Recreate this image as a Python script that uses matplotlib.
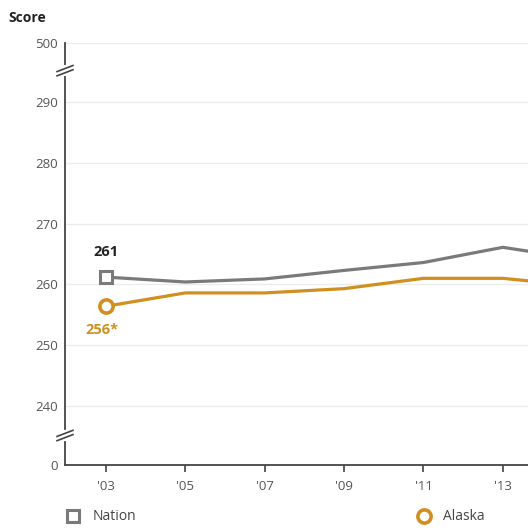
import matplotlib.pyplot as plt
from matplotlib.lines import Line2D

plt.rcParams['font.family'] = ['Open Sans', 'DejaVu Sans']

# data
years = [2003, 2005, 2007, 2009, 2011, 2013, 2015]
year_labels = ["'03", "'05", "'07", "'09", "'11", "'13"]
nation = [261.2, 260.4, 260.9, 262.3, 263.6, 266.1, 264.1]
alaska = [256.4, 258.6, 258.6, 259.3, 261.0, 261.0, 259.7]
y_ticks = [240, 250, 260, 270, 280, 290]

GRAY = '#7a7a7a'
ORANGE = '#d18f1f'
AXIS = '#444444'

# broken axis: 0 and 500 are drawn at fake positions below/above the range
Y0 = 230.3
Y500 = 299.7

fig = plt.figure(figsize=(5.28, 5.31), dpi=100)
ax = fig.add_axes([65 / 528, 66 / 531, 545 / 528, 422 / 531])

ax.set_xlim(2001.97, 2015.7)
ax.set_ylim(Y0, Y500)

for v in y_ticks + [Y500]:
    ax.axhline(v, color='#ececec', lw=1, zorder=0)

ax.plot(years, nation, color=GRAY, lw=2.3, zorder=3)
ax.plot(years, alaska, color=ORANGE, lw=2.3, zorder=3)
ax.plot(years[0], nation[0], marker='s', ms=8.5, mfc='white', mec=GRAY, mew=2.2, zorder=4)
ax.plot(years[0], alaska[0], marker='o', ms=9.5, mfc='white', mec=ORANGE, mew=2.6, zorder=4)

ax.annotate('261', (years[0], nation[0]), xytext=(0, 13), textcoords='offset points',
            ha='center', va='bottom', fontsize=10.5, fontweight='bold', color='#222222')
ax.annotate('256*', (years[0], alaska[0]), xytext=(-3, -12), textcoords='offset points',
            ha='center', va='top', fontsize=10.5, fontweight='bold', color=ORANGE)

ax.set_xticks(years[:len(year_labels)])
ax.set_xticklabels(year_labels)
ax.set_yticks([Y0] + y_ticks + [Y500])
ax.set_yticklabels(['0'] + [str(v) for v in y_ticks] + ['500'])
ax.tick_params(axis='x', length=5, width=1.2, color=AXIS, labelsize=9.5, labelcolor='#555555', pad=6)
ax.tick_params(axis='y', length=0, labelsize=9.5, labelcolor='#555555', pad=5)

for s in ['top', 'right']:
    ax.spines[s].set_visible(False)
ax.spines['left'].set_color(AXIS)
ax.spines['left'].set_linewidth(1.3)
ax.spines['bottom'].set_color(AXIS)
ax.spines['bottom'].set_linewidth(1.3)

# break marks on the y-axis
for yb in [(Y500 + 290) / 2 + 0.3, (Y0 + 240) / 2]:
    ax.plot([2001.97, 2001.97], [yb - 0.6, yb + 0.6], color='white', lw=3, zorder=5, clip_on=False)
    for off in [-0.35, 0.35]:
        ax.plot([2001.77, 2002.17], [yb + off - 0.5, yb + off + 0.5], color=AXIS, lw=1.2,
                zorder=6, clip_on=False)

fig.text(8 / 528, 1 - 18 / 531, 'Score', fontsize=10, fontweight='bold', color='#222222', va='center')

handles = [Line2D([], [], ls='none', marker='s', ms=8.5, mfc='white', mec=GRAY, mew=2.2),
           Line2D([], [], ls='none', marker='o', ms=9.5, mfc='white', mec=ORANGE, mew=2.6)]
fig.legend(handles, ['Nation', 'Alaska'], ncol=2, loc='center left',
           bbox_to_anchor=(54 / 528, 1 - 517 / 531), frameon=False, fontsize=10,
           labelcolor='#444444', handlelength=1, handletextpad=0.9, columnspacing=20.2)

fig.savefig('out.png', dpi=100)
